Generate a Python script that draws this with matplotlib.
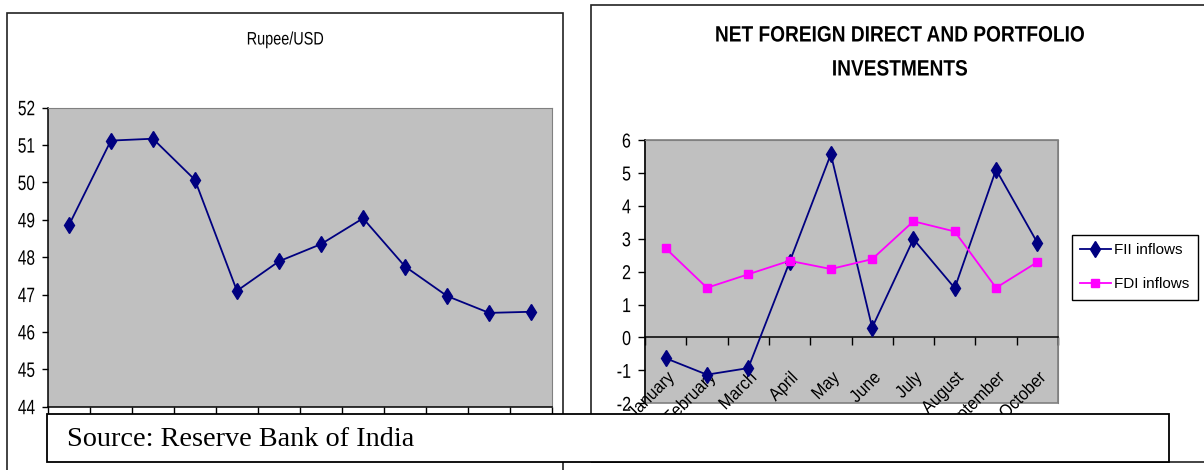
import numpy as np
import matplotlib
matplotlib.use("Agg")
import matplotlib.pyplot as plt
from matplotlib.patches import Rectangle
from matplotlib.patheffects import AbstractPathEffect
from matplotlib.transforms import Affine2D

# ---- data -------------------------------------------------------------
months = ["January", "February", "March", "April", "May",
          "June", "July", "August", "September", "October"]
rupee_usd = [48.85, 51.12, 51.17, 50.07, 47.10, 47.89,
             48.35, 49.04, 47.75, 46.96, 46.51, 46.54]
fii_inflows = [-0.63, -1.13, -0.93, 2.29, 5.57, 0.30, 2.99, 1.50, 5.10, 2.88]
fdi_inflows = [2.71, 1.51, 1.92, 2.33, 2.08, 2.38, 3.53, 3.22, 1.51, 2.29]
rupee_ticks = list(range(44, 53))
flow_ticks = list(range(-2, 7))

# ---- page geometry (pixels, origin top-left) --------------------------
W, H, DPI = 1204, 470, 100
NAVY, MAGENTA, PLOT_BG, FRAME = "#000080", "#FF00FF", "#C0C0C0", "#808080"

plt.rcParams["font.family"] = ["Liberation Sans", "DejaVu Sans"]
plt.rcParams["axes.unicode_minus"] = False
SERIF = ["Liberation Serif", "DejaVu Serif"]


class Squeeze(AbstractPathEffect):
    """Narrow the glyphs horizontally (condensed look) about an edge/centre."""

    def __init__(self, sx, align="left"):
        super().__init__()
        self.sx = sx
        self.frac = {"left": 0.0, "center": 0.5, "right": 1.0}[align]

    def draw_path(self, renderer, gc, tpath, affine, rgbFace=None):
        ext = tpath.get_extents()
        x0 = ext.x0 + self.frac * ext.width
        pre = Affine2D().translate(-x0, 0).scale(self.sx, 1).translate(x0, 0)
        renderer.draw_path(gc, tpath, pre + affine, rgbFace)


def frac_rect(x0, y0, x1, y1):
    """Pixel box (top-left origin) -> figure-fraction [left, bottom, w, h]."""
    return [x0 / W, 1 - y1 / H, (x1 - x0) / W, (y1 - y0) / H]


def fx(x):
    return x / W


def fy(y):
    return 1 - y / H


fig = plt.figure(figsize=(W / DPI, H / DPI), dpi=DPI)
fig.patch.set_facecolor("white")

# panel outlines
for (x0, y0, x1, y1) in [(6.5, 13, 563, 490), (591, 4.5, 1220, 461.5)]:
    fig.add_artist(Rectangle((fx(x0), fy(y1)), fx(x1) - fx(x0), fy(y0) - fy(y1),
                             transform=fig.transFigure, fill=False,
                             ec="#222222", lw=1.2, zorder=1))

# ---- left chart: Rupee/USD -------------------------------------------
ax1 = fig.add_axes(frac_rect(47.8, 107.7, 552.2, 406.7))
ax1.set_facecolor(PLOT_BG)
x1 = np.arange(len(rupee_usd)) + 0.5
ax1.plot(x1, rupee_usd, color=NAVY, lw=1.3, marker="d", ms=8,
         mfc=NAVY, mec=NAVY, zorder=3)
ax1.set_xlim(0, len(rupee_usd))
ax1.set_ylim(rupee_ticks[0], rupee_ticks[-1])
ax1.set_xticks(range(len(rupee_usd) + 1))
ax1.set_xticklabels([])
ax1.set_yticks(rupee_ticks)
ax1.tick_params(axis="y", length=4.5, width=1, pad=4.5, labelsize=15)
ax1.tick_params(axis="x", length=8, width=1)
for lbl in ax1.get_yticklabels():
    lbl.set_path_effects([Squeeze(0.74, "right")])
for s in ("top", "right"):
    ax1.spines[s].set_color(FRAME)
for s in ("left", "bottom"):
    ax1.spines[s].set_color("black")
    ax1.spines[s].set_linewidth(1.1)
fig.text(fx(285), fy(40), "Rupee/USD", ha="center", va="center", fontsize=13,
         path_effects=[Squeeze(0.8, "center")])

# ---- right chart: FII / FDI flows ------------------------------------
ax2 = fig.add_axes(frac_rect(645, 140, 1058, 403.3))
ax2.set_facecolor(PLOT_BG)
x2 = np.arange(len(months)) + 0.5
l_fii, = ax2.plot(x2, fii_inflows, color=NAVY, lw=1.3, marker="d", ms=8,
                  mfc=NAVY, mec=NAVY, label="FII inflows", zorder=3)
l_fdi, = ax2.plot(x2, fdi_inflows, color=MAGENTA, lw=1.3, marker="s", ms=6,
                  mfc=MAGENTA, mec=MAGENTA, label="FDI inflows", zorder=3)
ax2.set_xlim(0, len(months))
ax2.set_ylim(flow_ticks[0], flow_ticks[-1])
ax2.set_yticks(flow_ticks)
ax2.tick_params(axis="y", length=5, width=1, pad=5, labelsize=14.5)
for lbl in ax2.get_yticklabels():
    lbl.set_path_effects([Squeeze(0.8, "right")])
ax2.spines["bottom"].set_position(("data", 0))
ax2.set_xticks(range(len(months) + 1))
ax2.set_xticklabels([])
ax2.tick_params(axis="x", which="major", length=6, width=1)
ax2.set_xticks(x2, minor=True)
ax2.set_xticklabels(months, minor=True, rotation=45, ha="right", va="top",
                    rotation_mode="anchor", fontsize=13)
ax2.tick_params(axis="x", which="minor", length=0, pad=23)
for lbl in ax2.get_xticklabels(minor=True):
    lbl.set_path_effects([Squeeze(0.9, "right")])
for s in ("top", "right"):
    ax2.spines[s].set_color(FRAME)
for s in ("left", "bottom"):
    ax2.spines[s].set_color("black")
    ax2.spines[s].set_linewidth(1.1)
ax2.add_patch(Rectangle((0, 0), 1, 1, transform=ax2.transAxes, fill=False,
                        ec=FRAME, lw=1.2, zorder=0.6, clip_on=False))

title_fx = [Squeeze(0.86, "center")]
fig.text(fx(900), fy(36), "NET FOREIGN DIRECT AND PORTFOLIO", ha="center",
         va="center", fontsize=16, fontweight="bold", path_effects=title_fx)
fig.text(fx(900), fy(70), "INVESTMENTS", ha="center", va="center",
         fontsize=16, fontweight="bold", path_effects=title_fx)

leg = fig.legend(handles=[l_fii, l_fdi], loc="upper left",
                 bbox_to_anchor=(fx(1071.7), fy(235)), bbox_transform=fig.transFigure,
                 borderaxespad=0, fancybox=False, framealpha=1, edgecolor="black",
                 fontsize=11, handlelength=2.0, handletextpad=0.25,
                 labelspacing=1.3, borderpad=0.55)
leg.get_frame().set_linewidth(1.0)

# ---- source note box --------------------------------------------------
fig.add_artist(Rectangle((fx(47), fy(461.5)), fx(1169) - fx(47), fy(414) - fy(461.5),
                         transform=fig.transFigure, fc="white", ec="black",
                         lw=1.3, zorder=10))
fig.text(fx(67), fy(440), "Source: Reserve Bank of India", ha="left", va="center",
         family=SERIF, fontsize=20.3, zorder=11)

fig.savefig("out.png", dpi=DPI, facecolor="white")
